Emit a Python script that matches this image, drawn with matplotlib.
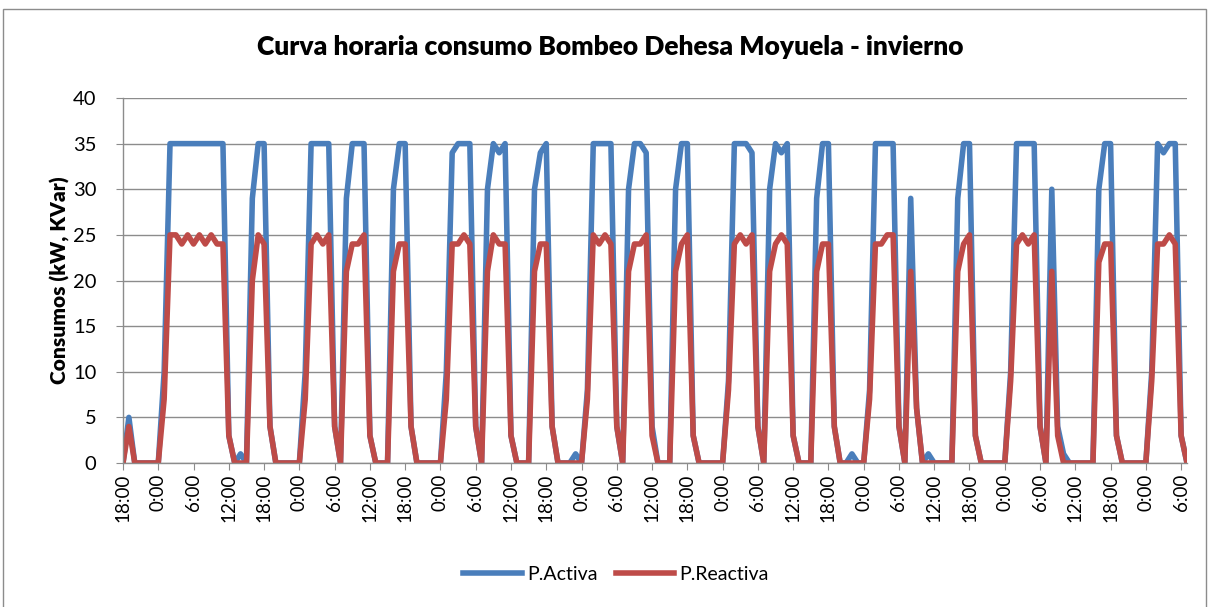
import numpy as np
import matplotlib.pyplot as plt
from matplotlib.patches import Rectangle

# hourly readings, starting 18:00
activa = [0, 5, 0, 0, 0, 0, 0, 10, 35, 35, 35, 35, 35, 35, 35, 35, 35, 35, 3, 0,
          1, 0, 29, 35, 35, 4, 0, 0, 0, 0, 0, 10, 35, 35, 35, 35, 4, 0, 29, 35,
          35, 35, 3, 0, 0, 0, 30, 35, 35, 4, 0, 0, 0, 0, 0, 10, 34, 35, 35, 35,
          4, 0, 30, 35, 34, 35, 3, 0, 0, 0, 30, 34, 35, 4, 0, 0, 0, 1, 0, 8,
          35, 35, 35, 35, 4, 0, 30, 35, 35, 34, 4, 0, 0, 0, 30, 35, 35, 3, 0, 0,
          0, 0, 0, 9, 35, 35, 35, 34, 4, 0, 30, 35, 34, 35, 3, 0, 0, 0, 29, 35,
          35, 4, 0, 0, 1, 0, 0, 8, 35, 35, 35, 35, 4, 0, 29, 6, 0, 1, 0, 0,
          0, 0, 29, 35, 35, 3, 0, 0, 0, 0, 0, 10, 35, 35, 35, 35, 4, 0, 30, 4,
          1, 0, 0, 0, 0, 0, 30, 35, 35, 3, 0, 0, 0, 0, 0, 10, 35, 34, 35, 35,
          3, 0]
reactiva = [0, 4, 0, 0, 0, 0, 0, 7, 25, 25, 24, 25, 24, 25, 24, 25, 24, 24, 3, 0,
            0, 0, 20, 25, 24, 4, 0, 0, 0, 0, 0, 7, 24, 25, 24, 25, 4, 0, 21, 24,
            24, 25, 3, 0, 0, 0, 21, 24, 24, 4, 0, 0, 0, 0, 0, 7, 24, 24, 25, 24,
            4, 0, 21, 25, 24, 24, 3, 0, 0, 0, 21, 24, 24, 4, 0, 0, 0, 0, 0, 7,
            25, 24, 25, 24, 4, 0, 21, 24, 24, 25, 3, 0, 0, 0, 21, 24, 25, 3, 0, 0,
            0, 0, 0, 8, 24, 25, 24, 25, 4, 0, 21, 24, 25, 24, 3, 0, 0, 0, 21, 24,
            24, 4, 0, 0, 0, 0, 0, 7, 24, 24, 25, 25, 4, 0, 21, 6, 0, 0, 0, 0,
            0, 0, 21, 24, 25, 3, 0, 0, 0, 0, 0, 9, 24, 25, 24, 25, 4, 0, 21, 3,
            0, 0, 0, 0, 0, 0, 22, 24, 24, 3, 0, 0, 0, 0, 0, 9, 24, 24, 25, 24,
            3, 0]
hour_cycle = ['18:00', '0:00', '6:00', '12:00']
tick_labels = [hour_cycle[i % 4] for i in range(31)]

BLUE = '#4A7EBB'
RED = '#BE4B48'
GRID = '#8C8C8C'

plt.rcParams['font.family'] = ['Lato', 'DejaVu Sans']

fig = plt.figure(figsize=(12.13, 6.07), dpi=100)
ax = fig.add_axes([123 / 1213, 1 - 463 / 607, (1187 - 123) / 1213, (463 - 98) / 607])

x = np.arange(len(activa))
ax.plot(x, activa, color=BLUE, lw=4, label='P.Activa')
ax.plot(x, reactiva, color=RED, lw=4, label='P.Reactiva')

ax.set_xlim(0, len(activa) - 1)
ax.set_ylim(0, 40)
ax.set_yticks(np.arange(0, 41, 5))
ax.set_xticks(np.arange(0, 6 * len(tick_labels), 6))
ax.set_xticklabels(tick_labels, rotation=90, fontsize=13.5)
ax.tick_params(axis='y', labelsize=14.5, length=5, color=GRID, pad=14)
ax.tick_params(axis='x', length=5, color=GRID, pad=3)
ax.grid(axis='y', color=GRID, lw=1)
ax.set_axisbelow(True)
for s in ['top', 'right']:
    ax.spines[s].set_visible(False)
for s in ['left', 'bottom']:
    ax.spines[s].set_color(GRID)
    ax.spines[s].set_linewidth(1)

ax.set_ylabel('Consumos (kW, KVar)', fontsize=15, fontweight='heavy', labelpad=2)
fig.text(0.503, 1 - 47 / 607, 'Curva horaria consumo Bombeo Dehesa Moyuela - invierno',
         ha='center', va='center', fontsize=19, fontweight='heavy')

fig.legend(loc='center', bbox_to_anchor=(0.508, 1 - 574 / 607), ncol=2, frameon=False,
           fontsize=14, handlelength=3.0, columnspacing=0.9, handletextpad=0.3)

fig.patches.append(Rectangle((3 / 1213, -0.01), 1203 / 1213, 1 - 9 / 607 + 0.01,
                             transform=fig.transFigure, fill=False, edgecolor='#8C8C8C', lw=1))

fig.savefig('out.png', dpi=100)
